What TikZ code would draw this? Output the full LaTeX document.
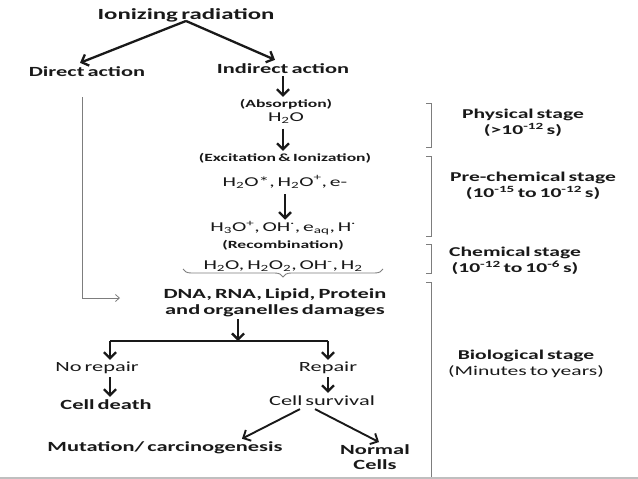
\documentclass[tikz,border=0pt]{standalone}
\usepackage{fontspec}
\setmainfont{Carlito}[FakeStretch=1.6,WordSpace=0.6]
\usetikzlibrary{arrows.meta,decorations.pathreplacing}
\definecolor{flowink}{RGB}{25,25,25}
\definecolor{brkgray}{RGB}{125,125,125}
\tikzset{
  ttl/.style={font=\fontsize{15.5}{18}\selectfont\bfseries,text=flowink,inner sep=2pt},
  hd/.style={font=\fontsize{14}{15.5}\selectfont\bfseries,text=flowink,align=center,inner sep=2pt},
  rg/.style={font=\fontsize{14}{16}\selectfont,text=flowink,align=center,inner sep=2pt},
  sm/.style={font=\fontsize{11}{13}\selectfont\bfseries,text=flowink,inner sep=2pt},
  chemtxt/.style={font=\fontsize{13.5}{15}\selectfont,text=flowink,inner sep=2pt},
  stg/.style={font=\fontsize{13.5}{16}\selectfont\bfseries,text=flowink,align=center},
  arr/.style={-{Straight Barb[length=6pt,width=12pt]},line width=2.3pt,color=flowink},
  slant/.style={arr,line width=1.9pt},
  thinarr/.style={-{Straight Barb[length=4pt,width=7pt]},line width=0.8pt,color=brkgray},
  brk/.style={line width=0.9pt,color=brkgray},
}
\newcommand{\stagebrk}[2]{\draw[brk] (426,#1) -- (431,#1) -- (431,#2) -- (426,#2);}

\begin{document}
\begin{tikzpicture}[x=1pt,y=-1pt]
  \useasboundingbox (0,0) rectangle (638,479);
  % top split
  \node[ttl] (ion) at (186,15) {Ionizing radiation};
  \node[hd] (direct) at (87,72) {Direct action};
  \node[hd] (indirect) at (283,69) {Indirect action};
  \draw[arr] ([yshift=3pt]ion.south) -- ([xshift=-7pt,yshift=2pt]direct.north);
  \draw[arr] ([yshift=3pt]ion.south) -- ([xshift=-8pt,yshift=2pt]indirect.north);

  % indirect chain
  \node[sm] (absorb) at (286,104) {(Absorption)};
  \node[chemtxt] (water) at (286,118) {H\textsubscript{2}O};
  \node[sm] (excite) at (285,158) {(Excitation \& Ionization)};
  \node[chemtxt] (ions) at (285,182) {H\textsubscript{2}O*, H\textsubscript{2}O\textsuperscript{+}, e-};
  \node[chemtxt] (radic) at (283,228) {H\textsubscript{3}O\textsuperscript{+}, OH\textsuperscript{·}, e\textsubscript{aq}, H\textsuperscript{·}};
  \node[sm] (recomb) at (283,245) {(Recombination)};
  \node[chemtxt] (prod) at (283,266) {H\textsubscript{2}O, H\textsubscript{2}O\textsubscript{2}, OH\textsuperscript{-}, H\textsubscript{2}};
  \draw[arr] ([xshift=-3pt]water.north |- indirect.south) -- ([xshift=-3pt]absorb.north);
  \draw[arr] ([xshift=-3pt,yshift=-3pt]water.south) -- ([xshift=-3pt]water.south |- excite.north);
  \draw[arr] ([yshift=-4pt]ions.south) -- ([xshift=2pt,yshift=-1pt]radic.north);
  \draw[brk,decorate,decoration={brace,amplitude=8pt}] (383,269) -- (183,269);

  % damage
  \node[hd] (dna) at (275,303) {DNA, RNA, Lipid, Protein\\and organelles damages};
  \coordinate (dirtop) at (82,97);
  \coordinate (dirend) at (120,298);
  \draw[thinarr] (dirtop) |- (dirend);

  % repair split
  \coordinate (bar) at (238,341);
  \coordinate (barL) at (110,341);
  \coordinate (barR) at (328,341);
  \node[rg] (norep) at (97,368) {No repair};
  \node[rg] (rep) at (328,368) {Repair};
  \draw[arr] ([xshift=-37pt]dna.south) -- (bar);
  \draw[line width=2.3pt,color=flowink] (barL) -- (barR);
  \draw[arr] (barL) -- (barL |- norep.north);
  \draw[arr] (barR) -- (barR |- rep.north);
  \node[hd] (death) at (106,405) {Cell death};
  \node[rg] (surv) at (322,401) {Cell survival};
  \draw[arr] ([xshift=13pt,yshift=-1pt]norep.south) -- ([xshift=4pt,yshift=1pt]death.north);
  \draw[arr] ([yshift=-1pt]rep.south) -- ([xshift=6pt,yshift=1pt]surv.north);
  \node[hd] (mut) at (165,448) {Mutation/ carcinogenesis};
  \node[hd] (normal) at (375,457) {Normal\\Cells};
  \draw[slant] ([xshift=-22pt,yshift=-1pt]surv.south) -- ([xshift=77pt,yshift=1pt]mut.north);
  \draw[slant] ([xshift=-7pt,yshift=-1pt]surv.south) -- ([xshift=4pt]normal.north);

  % stages
  \stagebrk{103}{147}
  \node[stg] (phys) at (523,123) {Physical stage\\(>10\textsuperscript{-12} s)};
  \stagebrk{156}{236}
  \node[stg] (prechem) at (533,186) {Pre-chemical stage\\(10\textsuperscript{-15} to 10\textsuperscript{-12} s)};
  \stagebrk{244}{273}
  \node[stg] (chemst) at (515,261) {Chemical stage\\(10\textsuperscript{-12} to 10\textsuperscript{-6} s)};
  \draw[brk] (426,282) -- (431,282) -- (431,479);
  \node[stg] (bio) at (526,364) {Biological stage\\\mdseries(Minutes to years)};

  % bottom rule
  \draw[color=gray!50,line width=1.3pt] (0,478) -- (638,478);
\end{tikzpicture}
\end{document}
